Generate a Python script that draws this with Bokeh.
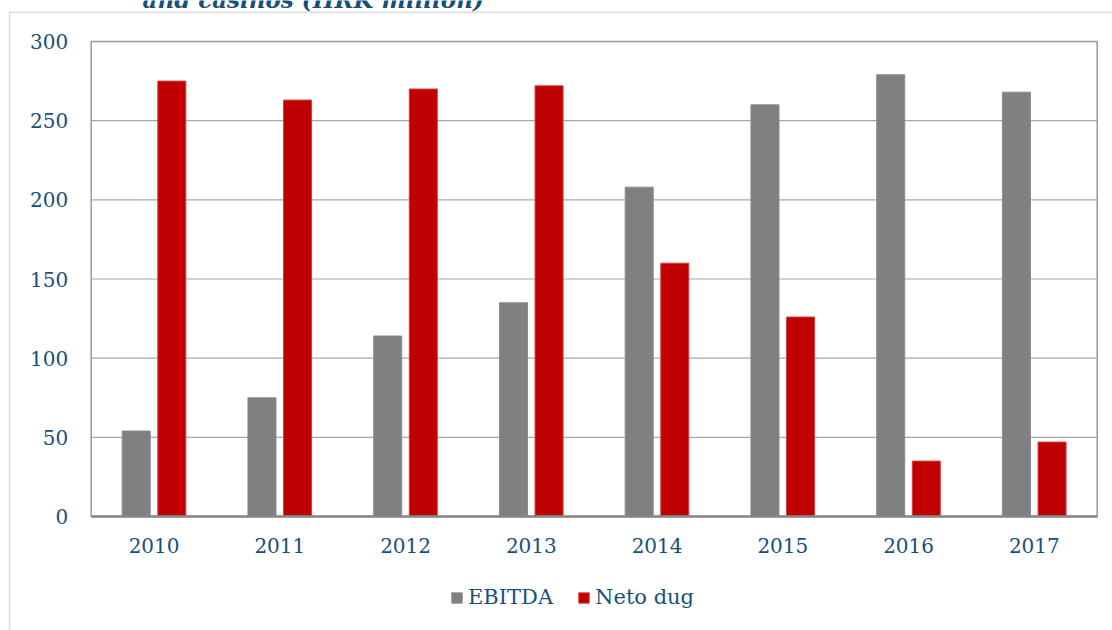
from bokeh.plotting import figure
from bokeh.models import (ColumnDataSource, Range1d, Legend, LegendItem,
                          BoxAnnotation, Label)
from bokeh.core.properties import value
from bokeh.embed import file_html
from bokeh.resources import INLINE

# ---- data ----
years = ["2010", "2011", "2012", "2013", "2014", "2015", "2016", "2017"]
ebitda = [54, 75, 114, 135, 208, 260, 279, 268]
neto_dug = [275, 263, 270, 272, 160, 126, 35, 47]
series_names = ["EBITDA", "Neto dug"]
y_ticks = [0, 50, 100, 150, 200, 250, 300]
title_text = "and casinos (HRK million)"

TEXT = "#17507A"
FONT = "DejaVu Serif"
GRID = "#a8a8a8"

# ---- layout constants (pixels) ----
W, H = 1112, 630
PLOT_L, PLOT_R, PLOT_T, PLOT_B = 90.7, 1096.7, 41.0, 516.0

n = len(years)
ymax = max(y_ticks)
px_x = (PLOT_R - PLOT_L) / n            # pixels per category
px_y = (PLOT_B - PLOT_T) / ymax         # pixels per unit
x0 = -0.5 - PLOT_L / px_x
x1 = n - 0.5 + (W - PLOT_R) / px_x
y1 = ymax + PLOT_T / px_y
y0 = -(H - PLOT_B) / px_y

idx = list(range(n))
src = ColumnDataSource(data=dict(
    xg=[i - 0.142 for i in idx], xr=[i + 0.141 for i in idx],
    xc=idx, yc=[0] * n, year=years, ebitda=ebitda, neto=neto_dug))

p = figure(width=W, height=H, output_backend="svg", toolbar_location=None,
           x_range=Range1d(x0, x1), y_range=Range1d(y0, y1),
           x_axis_location=None, y_axis_location=None,
           min_border=0, min_border_left=0, min_border_right=0,
           min_border_top=0, min_border_bottom=0)
p.grid.visible = False
p.outline_line_color = None
p.background_fill_color = "white"
p.border_fill_color = "white"

# horizontal grid lines
gl = [t for t in y_ticks if 0 < t < ymax]
p.segment(x0=[-0.5] * len(gl), x1=[n - 0.5] * len(gl), y0=gl, y1=gl,
          line_color=GRID, line_width=1.2)

# bars
r1 = p.vbar(x="xg", top="ebitda", width=0.223, source=src,
            fill_color="#808080", line_color="#8c8c8c", line_width=1)
r2 = p.vbar(x="xr", top="neto", width=0.223, source=src,
            fill_color="#C00000", line_color="#d04040", line_width=1)

# plot-area border
p.quad(left=[-0.5], right=[n - 0.5], bottom=[0], top=[ymax],
       fill_color=None, line_color="#9a9a9a", line_width=1.5)
# category axis line
p.segment(x0=[-0.5], x1=[n - 0.5], y0=[0], y1=[0],
          line_color="#868686", line_width=2.5)

# y tick labels
p.text(x=[-0.5] * len(y_ticks), y=y_ticks, text=[str(t) for t in y_ticks],
       x_offset=-23, text_align="right", text_baseline="middle",
       text_font=value(FONT), text_font_size="20px", text_color=TEXT)
# x tick labels
p.text(x="xc", y="yc", text="year", source=src, y_offset=29,
       text_align="center", text_baseline="middle",
       text_font=value(FONT), text_font_size="20px", text_color=TEXT)

# outer chart box (only its left and top edges are visible)
outer = BoxAnnotation(left=9, right=W + 50, top=H - 11.7, bottom=-50,
                      left_units="screen", right_units="screen",
                      top_units="screen", bottom_units="screen",
                      fill_alpha=0, line_color="#8c8c8c", line_width=1.5)
p.add_layout(outer)

# cut-off title fragment at the very top (as in the source image)
title = Label(x=142, y=H + 1.5, x_units="screen", y_units="screen",
              text=title_text, text_font=FONT, text_font_style="bold italic",
              text_font_size="23px", text_color=TEXT,
              text_baseline="alphabetic")
p.add_layout(title)

legend = Legend(items=[LegendItem(label=series_names[0], renderers=[r1]),
                       LegendItem(label=series_names[1], renderers=[r2])],
                location=(450, H - 609), orientation="horizontal",
                glyph_width=13, glyph_height=13, label_standoff=5, spacing=24,
                padding=0, margin=0, border_line_color=None,
                background_fill_alpha=0,
                label_text_font=FONT, label_text_font_size="21px",
                label_text_color=TEXT)
p.add_layout(legend, "center")

open("out.html", "w").write(file_html(p, INLINE))
